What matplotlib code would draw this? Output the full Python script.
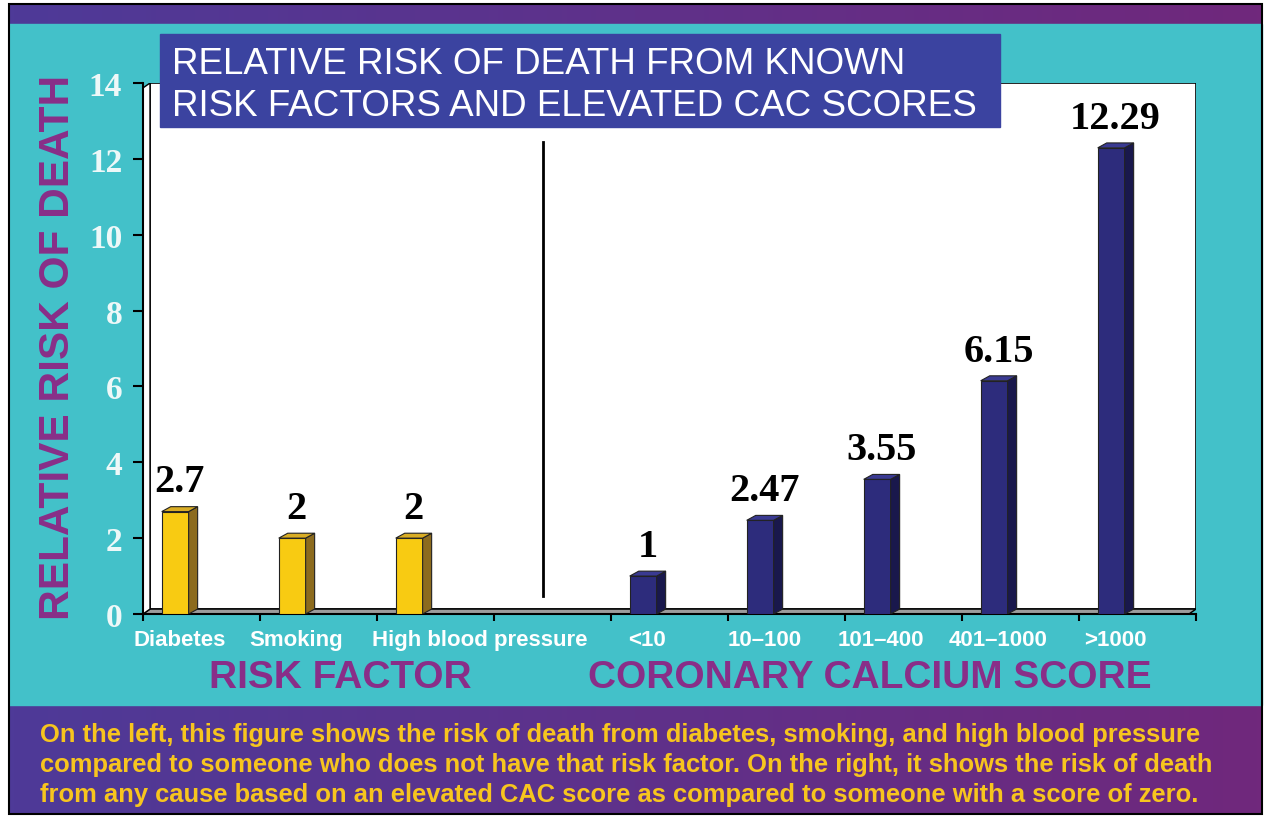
import matplotlib.pyplot as plt
import numpy as np
from matplotlib import font_manager
from matplotlib.patches import Rectangle, Polygon

# data
risk_factors = ['Diabetes', 'Smoking', 'High blood pressure']
risk_values = [2.7, 2.0, 2.0]
cac_groups = ['<10', '10–100', '101–400', '401–1000', '>1000']
cac_values = [1.0, 2.47, 3.55, 6.15, 12.29]
value_labels = ['2.7', '2', '2', '1', '2.47', '3.55', '6.15', '12.29']
y_ticks = [0, 2, 4, 6, 8, 10, 12, 14]

title_lines = ['RELATIVE RISK OF DEATH FROM KNOWN',
               'RISK FACTORS AND ELEVATED CAC SCORES']
caption_lines = [
    'On the left, this figure shows the risk of death from diabetes, smoking, and high blood pressure',
    'compared to someone who does not have that risk factor. On the right, it shows the risk of death',
    'from any cause based on an elevated CAC score as compared to someone with a score of zero.',
]

# colours
CYAN = '#43c1c9'
PURPLE_TXT = '#892e88'
YELLOW = '#f8cb12'
YELLOW_SIDE = '#8c6b1e'
YELLOW_TOP = '#d9ad25'
NAVY = '#2d2c7c'
NAVY_SIDE = '#19184c'
NAVY_TOP = '#3a3a92'
TITLE_BOX = '#3b43a0'
CAPTION_YELLOW = '#f7c51e'

installed = {f.name for f in font_manager.fontManager.ttflist}
narrow = 'Liberation Sans Narrow' in installed
cap_family = 'Liberation Sans Narrow' if narrow else 'Liberation Sans'
cap_size = 21 if narrow else 18.4

W, H = 1266, 820
fig = plt.figure(figsize=(W / 100, H / 100), dpi=100)
fig.patch.set_facecolor('white')

# background panels in pixel coordinates
bg = fig.add_axes([0, 0, 1, 1])
bg.axis('off')

grad = np.linspace(0, 1, 256).reshape(1, -1)
c0 = np.array([78, 58, 152]) / 255
c1 = np.array([112, 40, 124]) / 255
grad_img = c0 + (c1 - c0) * grad[..., None]
bg.imshow(grad_img, extent=(9, 1262, 25, 5), aspect='auto')
bg.add_patch(Rectangle((9, 25), 1253, 681, color=CYAN))
bg.imshow(grad_img, extent=(9, 1262, 815, 706), aspect='auto')
bg.add_patch(Rectangle((9, 5), 1253, 810, fill=False, ec='black', lw=1.5))
bg.set_xlim(0, W)
bg.set_ylim(H, 0)

for i, line in enumerate(caption_lines):
    bg.text(40, 742 + 30 * i, line, color=CAPTION_YELLOW, fontsize=cap_size,
            family=cap_family, fontweight='bold', va='baseline', ha='left')

# main chart
ax = fig.add_axes([143 / W, 1 - 615 / H, 1053 / W, 531 / H])
ax.patch.set_alpha(0)
ax.set_xlim(0, 9)
ax.set_ylim(0, 14)

DX, DY = 0.06, 0.13       # wall depth
BDX, BDY = 0.077, 0.13    # bar depth
BAR_OFF, BAR_W = 0.16, 0.23

ax.add_patch(Polygon([(0, 0), (9 - DX, 0), (9, DY), (DX, DY)],
                     fc='#9c9c9c', ec='black', lw=1, zorder=1))
ax.add_patch(Rectangle((DX, DY), 9 - DX, 14 - DY, fc='white', ec='black',
                       lw=1.2, zorder=0.5))
ax.add_patch(Polygon([(0, 0), (DX, DY), (DX, 14), (0, 14 - DY)],
                     fc='white', ec='black', lw=1, zorder=1))

# divider between the two groups
ax.plot([3.42, 3.42], [0.47, 12.45], color='black', lw=2, zorder=2)

slots = [0, 1, 2, 4, 5, 6, 7, 8]
values = risk_values + cac_values
fronts = [YELLOW] * 3 + [NAVY] * 5
sides = [YELLOW_SIDE] * 3 + [NAVY_SIDE] * 5
tops = [YELLOW_TOP] * 3 + [NAVY_TOP] * 5

lefts = [s + BAR_OFF for s in slots]
bars = ax.bar(lefts, values, width=BAR_W, align='edge', color=fronts,
              edgecolor='#222222', lw=0.8, zorder=3)

for b, sc, tc, lab in zip(bars, sides, tops, value_labels):
    x0, w, h = b.get_x(), b.get_width(), b.get_height()
    x1 = x0 + w
    ax.add_patch(Polygon([(x1, 0), (x1 + BDX, BDY), (x1 + BDX, h + BDY), (x1, h)],
                         fc=sc, ec='#222222', lw=0.8, zorder=3))
    ax.add_patch(Polygon([(x0, h), (x0 + BDX, h + BDY), (x1 + BDX, h + BDY), (x1, h)],
                         fc=tc, ec='#222222', lw=0.8, zorder=3))
    ax.annotate(lab, (x0 + w / 2 + BDX / 2, h + BDY), xytext=(0, 11),
                textcoords='offset points', ha='center', va='baseline',
                fontsize=29, fontweight='bold', family='Liberation Serif',
                color='black', zorder=4)

# axes styling
for side in ['top', 'right']:
    ax.spines[side].set_visible(False)
ax.spines['left'].set_linewidth(1.5)
ax.spines['bottom'].set_linewidth(1.5)
ax.spines['left'].set_zorder(2)
ax.spines['bottom'].set_zorder(2)

ax.set_yticks(y_ticks)
ax.set_yticklabels([str(t) for t in y_ticks])
ax.tick_params(axis='y', direction='out', length=7, width=1.5, pad=8,
               labelsize=24, labelcolor='#eef8f8')
for t in ax.get_yticklabels():
    t.set_family('Liberation Serif')
    t.set_fontweight('bold')

all_labels = risk_factors + cac_groups
label_pos = [s + 0.31 for s in slots]
label_pos[2] = slots[2] - 0.04
ax.set_xticks(range(10))
ax.set_xticklabels([])
ax.set_xticks(label_pos, minor=True)
ax.set_xticklabels(all_labels, minor=True)
ax.tick_params(axis='x', which='major', direction='out', length=5, width=1.5)
ax.tick_params(axis='x', which='minor', length=0, pad=11, labelsize=16,
               labelcolor='white')
for i, t in enumerate(ax.get_xticklabels(minor=True)):
    t.set_family('Liberation Sans')
    t.set_fontweight('bold')
    if i == 2:
        t.set_ha('left')

# title box drawn over the chart
top = fig.add_axes([0, 0, 1, 1])
top.axis('off')
top.patch.set_alpha(0)
top.add_patch(Rectangle((160, 35), 840, 93, color=TITLE_BOX))
for i, line in enumerate(title_lines):
    top.text(172, 74 + 42 * i, line, color='white', fontsize=26.5,
             family='Liberation Sans', va='baseline', ha='left')
top.set_xlim(0, W)
top.set_ylim(H, 0)

# axis titles
fig.text(58 / W, 1 - 347 / H, 'RELATIVE RISK OF DEATH', rotation=90,
         color=PURPLE_TXT, fontsize=30.5, fontweight='bold',
         family='Liberation Sans', ha='center', va='center')
fig.text(340 / W, 1 - 678 / H, 'RISK FACTOR', color=PURPLE_TXT, fontsize=28,
         fontweight='bold', family='Liberation Sans', ha='center', va='center')
fig.text(870 / W, 1 - 678 / H, 'CORONARY CALCIUM SCORE', color=PURPLE_TXT,
         fontsize=28, fontweight='bold', family='Liberation Sans',
         ha='center', va='center')

fig.savefig('out.png', dpi=100, facecolor=fig.get_facecolor())
